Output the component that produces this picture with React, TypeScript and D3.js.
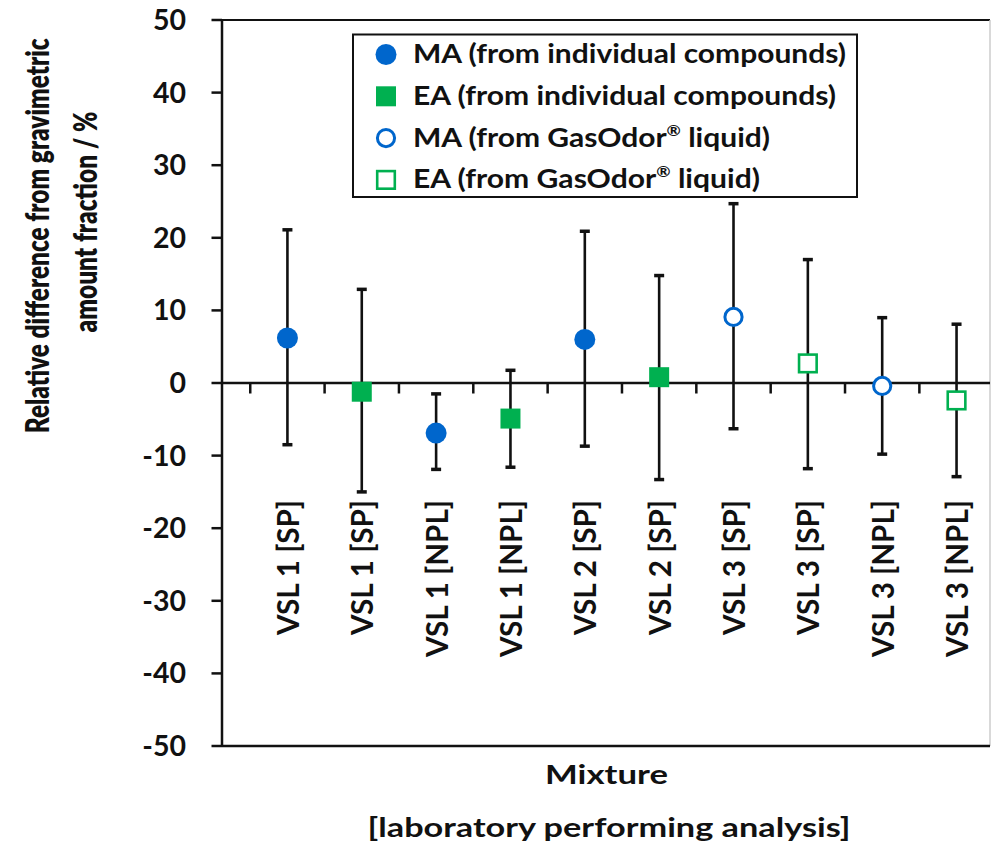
import * as d3 from 'd3';
import React from 'react';

// one entry per measurement, left to right
const categories = [
  'VSL 1 [SP]', 'VSL 1 [SP]', 'VSL 1 [NPL]', 'VSL 1 [NPL]', 'VSL 2 [SP]',
  'VSL 2 [SP]', 'VSL 3 [SP]', 'VSL 3 [SP]', 'VSL 3 [NPL]', 'VSL 3 [NPL]',
];
const seriesOf = [0, 1, 0, 1, 0, 1, 2, 3, 2, 3];
const values = [6.2, -1.2, -6.9, -4.9, 6.0, 0.8, 9.1, 2.7, -0.4, -2.4];
const upper = [21.1, 12.9, -1.5, 1.75, 20.9, 14.8, 24.7, 17.0, 9.0, 8.1];
const lower = [-8.5, -15.0, -11.9, -11.6, -8.7, -13.3, -6.3, -11.8, -9.8, -12.9];

const yTicks = [50, 40, 30, 20, 10, 0, -10, -20, -30, -40, -50];

const legendLabels = [
  'MA (from individual compounds)',
  'EA (from individual compounds)',
  'MA (from GasOdor® liquid)',
  'EA (from GasOdor® liquid)',
];

const BLUE = '#0066cc';
const GREEN = '#00b050';
const colors = [BLUE, GREEN, BLUE, GREEN];
const shapes = ['circle', 'square', 'circle', 'square'];
const filled = [true, true, false, false];

const W = 991, H = 846;
const left = 222, right = 990, top = 20, bottom = 746;
const FONT = 'Lato, "Open Sans", sans-serif';

const x = d3.scaleLinear().domain([0.12, 10.45]).range([left, right]);
const y = d3.scaleLinear().domain([-50, 50]).range([bottom, top]);

const Marker = ({ cx, cy, s }: { cx: number; cy: number; s: number }) => {
  const c = colors[s];
  if (shapes[s] === 'circle') {
    return filled[s]
      ? <circle cx={cx} cy={cy} r={10.5} fill={c} />
      : <circle cx={cx} cy={cy} r={8.6} fill="#fff" stroke={c} strokeWidth={3} />;
  }
  return filled[s]
    ? <rect x={cx - 10} y={cy - 10} width={20} height={20} fill={c} />
    : <rect x={cx - 8.8} y={cy - 8.8} width={17.6} height={17.6} fill="#fff" stroke={c} strokeWidth={2.6} />;
};

const legendLen = [433, 423, 357, 347];

const App = () => {
  const y0 = y(0);
  return (
    <svg width={W} height={H} style={{ position: 'absolute', left: 0, top: 0, background: '#fff' }}
      fontFamily={FONT} fontWeight={700}>
      {/* frame */}
      <line x1={left} x2={right} y1={top} y2={top} stroke="#111" strokeWidth={2} />
      <line x1={right} x2={right} y1={top} y2={bottom} stroke="#ccc" strokeWidth={1.5} />
      <line x1={left} x2={right} y1={bottom} y2={bottom} stroke="#111" strokeWidth={2.5} />
      <line x1={left} x2={left} y1={top} y2={bottom} stroke="#111" strokeWidth={2.5} />

      {/* y ticks and labels */}
      {yTicks.map(t => (
        <g key={t}>
          <line x1={left - 10.5} x2={left} y1={y(t)} y2={y(t)} stroke="#111" strokeWidth={2.5} />
          <text x={186} y={y(t) + 10} textAnchor="end" fontSize={28.5} fill="#111">{t}</text>
        </g>
      ))}

      {/* zero line with category ticks */}
      <line x1={left} x2={right} y1={y0} y2={y0} stroke="#111" strokeWidth={2.5} />
      {d3.range(categories.length).map(i => (
        <line key={i} x1={x(i + 0.5)} x2={x(i + 0.5)} y1={y0} y2={y0 + 10.5} stroke="#111" strokeWidth={2.5} />
      ))}

      {/* category labels */}
      {categories.map((c, i) => {
        const cx = x(i + 1) + 11.5;
        return (
          <text key={i} transform={`translate(${cx},500) rotate(-90)`} textAnchor="end" fontSize={30}
            fill="#111" textLength={c.includes('NPL') ? 157 : 135} lengthAdjust="spacingAndGlyphs">{c}</text>
        );
      })}

      {/* error bars */}
      {values.map((v, i) => {
        const cx = x(i + 1);
        return (
          <g key={i} stroke="#111">
            <line x1={cx} x2={cx} y1={y(upper[i])} y2={y(lower[i])} strokeWidth={2.6} />
            <line x1={cx - 5} x2={cx + 5} y1={y(upper[i])} y2={y(upper[i])} strokeWidth={3.5} />
            <line x1={cx - 5} x2={cx + 5} y1={y(lower[i])} y2={y(lower[i])} strokeWidth={3.5} />
          </g>
        );
      })}

      {/* points */}
      {values.map((v, i) => (
        <Marker key={i} cx={x(i + 1)} cy={y(v)} s={seriesOf[i]} />
      ))}

      {/* legend */}
      <rect x={353} y={34.5} width={504} height={162.5} fill="#fff" stroke="#111" strokeWidth={2} />
      {legendLabels.map((lab, k) => {
        const cy = 54.5 + k * 41.8;
        const parts = lab.split('®');
        return (
          <g key={k}>
            <Marker cx={386} cy={cy} s={k} />
            <text x={413} y={cy + 8.5} fontSize={26} fill="#111" textLength={legendLen[k]} lengthAdjust="spacingAndGlyphs">
              {parts[0]}
              {parts.length > 1 && <tspan fontSize={15} dy={-11}>®</tspan>}
              {parts.length > 1 && <tspan dy={11}>{parts[1]}</tspan>}
            </text>
          </g>
        );
      })}

      {/* y axis title: squeezed along its length like the original */}
      <text transform="translate(49,235.8) rotate(-90) scale(1,1.4)" textAnchor="middle" fontSize={23.5}
        fontWeight={800} fill="#111" textLength={395} lengthAdjust="spacingAndGlyphs">
        Relative difference from gravimetric
      </text>
      <text transform="translate(96.5,222) rotate(-90) scale(1,1.4)" textAnchor="middle" fontSize={23.5}
        fontWeight={800} fill="#111" textLength={221} lengthAdjust="spacingAndGlyphs">
        amount fraction / %
      </text>

      {/* x axis title */}
      <text x={606.5} y={783.5} textAnchor="middle" fontSize={26.5} fill="#111"
        textLength={123} lengthAdjust="spacingAndGlyphs">Mixture</text>
      <text x={609} y={837} textAnchor="middle" fontSize={26.5} fill="#111"
        textLength={483} lengthAdjust="spacingAndGlyphs">[laboratory performing analysis]</text>
    </svg>
  );
};

export default App;
